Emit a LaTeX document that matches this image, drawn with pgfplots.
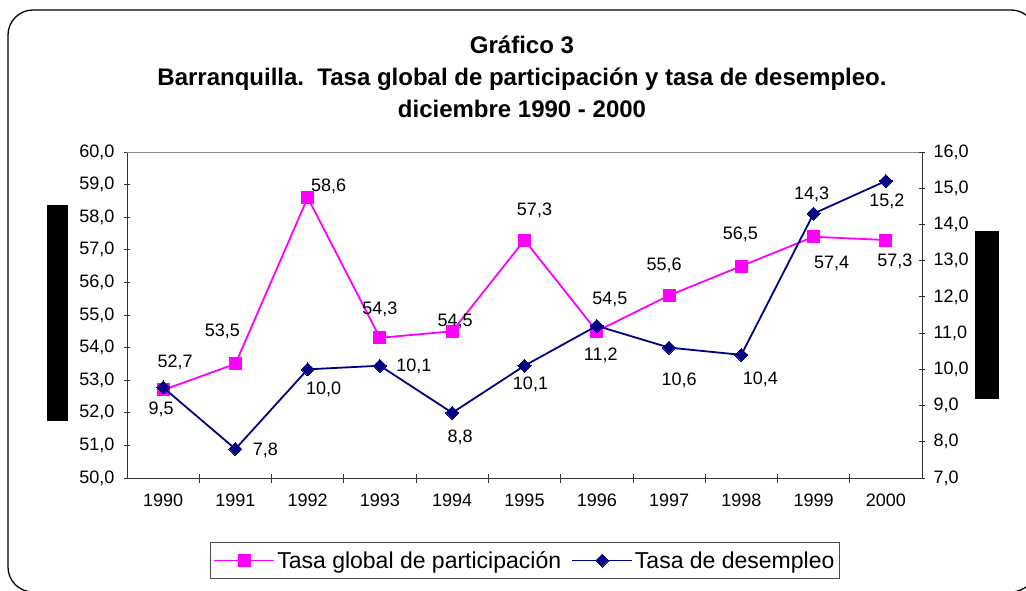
\documentclass[border=0pt]{standalone}
\usepackage{fontspec}
\setmainfont{Liberation Sans}
\usepackage{pgfplots}
\pgfplotsset{compat=1.18}
\usepackage{pgfplotstable}
\definecolor{tgp}{RGB}{255,0,255}
\definecolor{des}{RGB}{0,0,128}

% year index, value, label offset (pt)
\pgfplotstableread{
x y dx dy
0 52.7 12 28
1 53.5 -13 33
2 58.6 21 11
3 54.3 0 28
4 54.5 3 10
5 57.3 10 30
6 54.5 13 32
7 55.6 -5 30
8 56.5 -1 32
9 57.4 18 -27
10 57.3 9 -21
}\tasaglobal
\pgfplotstableread{
x y dx dy
0 9.5 -2 -22
1 7.8 30 -1
2 10.0 16 -20
3 10.1 34 -1
4 8.8 8 -25
5 10.1 6 -19
6 11.2 4 -29
7 10.6 10 -33
8 10.4 19 -25
9 14.3 -2 19
10 15.2 1 -20
}\desempleo

\pgfplotsset{
  base/.style={
    scale only axis, width=795pt, height=326pt,
    at={(127pt,112pt)}, anchor=south west,
    xmin=-0.5, xmax=10.5,
    tick label style={font=\fontsize{18}{20}\selectfont, black},
    /pgf/number format/.cd, fixed, fixed zerofill, precision=1, use comma,
      assume math mode=true, /pgfplots/.cd,
    tick align=center, major tick length=6pt,
    axis line style={line width=0.9pt, black!80},
    tick style={line width=0.8pt, black!80},
  },
  labels/.style={forget plot, draw=none, mark=none,
    nodes near coords,
    visualization depends on={\thisrow{dx} \as \dx},
    visualization depends on={\thisrow{dy} \as \dy},
    nodes near coords style={font=\fontsize{18}{20}\selectfont, black, anchor=center,
      xshift=\dx pt, yshift=\dy pt,
      /pgf/number format/.cd, fixed, fixed zerofill, precision=1, use comma, assume math mode=true},
  },
}

\begin{document}
\begin{tikzpicture}
\useasboundingbox (0,0) rectangle (1026pt,590pt);
\draw[line width=1.3pt, rounded corners=25pt] (8pt,-2pt) rectangle (1036pt,580pt);
\fill[black] (47pt,169pt) rectangle (68pt,385pt);
\fill[black] (975pt,191pt) rectangle (999pt,359pt);
\node[align=center, font=\fontsize{24}{32}\selectfont\bfseries] at (522pt,513pt)
  {Gráfico 3\\Barranquilla.\ \ Tasa global de participación y tasa de desempleo.\\diciembre 1990 - 2000};

\begin{axis}[base,
  axis x line*=bottom, axis y line*=left,
  ymin=50, ymax=60, ytick={50,51,...,60},
  xtick={0,...,10},
  xticklabels={1990,1991,1992,1993,1994,1995,1996,1997,1998,1999,2000},
  major x tick style={draw=none},
  minor xtick={0.5,1.5,...,9.5},
  minor tick length=9pt,
  minor x tick style={line width=0.8pt, black!80},
  xticklabel style={yshift=-9pt},
  yticklabel style={xshift=-6pt},
  after end axis/.code={\draw[black!45, line width=0.8pt] (rel axis cs:0,1) -- (rel axis cs:1,1);},
]
\addplot[color=tgp, line width=1.8pt, mark=square*, mark size=6pt,
  mark options={fill=tgp, draw=tgp, line width=0pt}] table[x=x, y=y] {\tasaglobal};
\addplot[labels] table[x=x, y=y] {\tasaglobal};
\end{axis}

\begin{axis}[base,
  axis x line=none, axis y line*=right,
  ymin=7, ymax=16, ytick={7,8,...,16},
  yticklabel style={xshift=5pt},
  legend columns=2,
  legend style={at={(0.5006,-0.2531)}, anchor=center, draw=black!70, line width=0.8pt,
    font=\fontsize{23}{26}\selectfont, inner xsep=3pt, inner ysep=7pt,
    /tikz/every even column/.append style={column sep=8pt},
    nodes={inner sep=2pt}},
  legend image code/.code={
    \draw[mark repeat=2, mark phase=2, #1] plot coordinates {(0pt,0pt) (30pt,0pt) (60pt,0pt)};},
]
\addlegendimage{color=tgp, line width=1.8pt, mark=square*, mark size=6pt,
  mark options={fill=tgp, draw=tgp, line width=0pt}}
\addlegendentry{Tasa global de participación}
\addplot[color=des, line width=1.8pt, mark=square*, mark size=4.6pt,
  mark options={rotate=45, fill=des, draw=des, line width=0pt}] table[x=x, y=y] {\desempleo};
\addlegendentry{Tasa de desempleo}
\addplot[labels] table[x=x, y=y] {\desempleo};
\end{axis}
\end{tikzpicture}
\end{document}
